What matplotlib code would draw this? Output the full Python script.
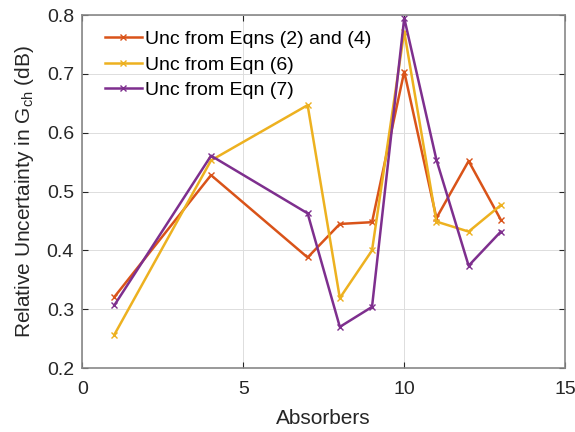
import numpy as np
import matplotlib.pyplot as plt

plt.rcParams['font.family'] = ['Liberation Sans', 'DejaVu Sans']

absorbers = [1, 4, 7, 8, 9, 10, 11, 12, 13]
unc_eq24 = [0.321, 0.528, 0.388, 0.445, 0.448, 0.704, 0.455, 0.552, 0.452]
unc_eq6 = [0.257, 0.553, 0.647, 0.319, 0.400, 0.772, 0.449, 0.432, 0.477]
unc_eq7 = [0.307, 0.561, 0.463, 0.270, 0.304, 0.795, 0.554, 0.374, 0.432]

labels = ['Unc from Eqns (2) and (4)', 'Unc from Eqn (6)', 'Unc from Eqn (7)']
colors = ['#D95319', '#EDB120', '#7E2F8E']

fig = plt.figure(figsize=(5.75, 4.32), dpi=100)
ax = fig.add_axes([0.143, 0.148, 0.840, 0.817])

for y, lab, c in zip([unc_eq24, unc_eq6, unc_eq7], labels, colors):
    ax.plot(absorbers, y, color=c, marker='x', markersize=5, linewidth=1.8, label=lab)

ax.set_xlim(0, 15)
ax.set_ylim(0.2, 0.8)
ax.set_xticks([0, 5, 10, 15])
ax.set_yticks(np.arange(0.2, 0.81, 0.1))
ax.set_yticklabels(['0.2', '0.3', '0.4', '0.5', '0.6', '0.7', '0.8'])
ax.grid(True, color='#dddddd', linewidth=0.7)
ax.set_axisbelow(True)
ax.tick_params(direction='in', labelsize=14, colors='#262626', length=4, top=True, right=True)
ax.tick_params(axis='x', pad=9)
ax.tick_params(axis='y', pad=6)
for s in ax.spines.values():
    s.set_color('#888888')
    s.set_linewidth(1.2)

ax.set_xlabel('Absorbers', fontsize=15, color='#262626', labelpad=8)
ax.set_ylabel('Relative Uncertainty in G$_\\mathregular{ch}$ (dB)', fontsize=15, color='#262626', labelpad=8)

leg = ax.legend(loc='upper left', frameon=False, fontsize=14, handlelength=1.9,
                handletextpad=0.15, labelspacing=0.4, borderaxespad=0.4,
                bbox_to_anchor=(0.015, 1.0))

fig.savefig('out.png', dpi=100)
